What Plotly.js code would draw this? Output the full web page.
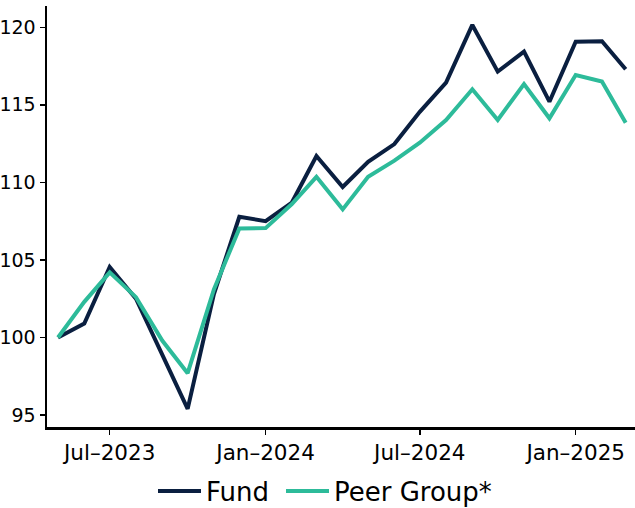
<!DOCTYPE html>
<html>
<head>
<meta charset="utf-8">
<script src="https://cdn.plot.ly/plotly-3.0.1.min.js"></script>
<style>
html, body { margin: 0; padding: 0; background: #ffffff; }
#chart { width: 635px; height: 508px; }
</style>
</head>
<body>
<div id="chart"></div>
<script>
const dates = ["2023-05-01","2023-06-01","2023-07-01","2023-08-01","2023-09-01","2023-10-01","2023-11-01","2023-12-01",
  "2024-01-01","2024-02-01","2024-03-01","2024-04-01","2024-05-01","2024-06-01","2024-07-01","2024-08-01",
  "2024-09-01","2024-10-01","2024-11-01","2024-12-01","2025-01-01","2025-02-01","2025-03-01"];
const fund = [100.0, 100.9, 104.55, 102.5, 98.9, 95.4, 102.8, 107.78, 107.5, 108.7, 111.7, 109.7, 111.33,
  112.47, 114.55, 116.43, 120.15, 117.14, 118.43, 115.2, 119.07, 119.1, 117.29];
const peer = [100.0, 102.3, 104.2, 102.6, 99.8, 97.7, 103.1, 107.03, 107.05, 108.6, 110.36, 108.26, 110.36,
  111.4, 112.56, 114.02, 116.0, 114.02, 116.34, 114.13, 116.92, 116.5, 113.85];
const tickVals = ["2023-07-01","2024-01-01","2024-07-01","2025-01-01"];
const tickText = ["Jul\u20132023","Jan\u20132024","Jul\u20132024","Jan\u20132025"];
const yTicks = [95, 100, 105, 110, 115, 120];

const traces = [
  { x: dates, y: fund, name: "Fund", type: "scatter", mode: "lines", legendwidth: 70,
    line: { color: "#0a1f40", width: 4 } },
  { x: dates, y: peer, name: "Peer Group*", type: "scatter", mode: "lines",
    line: { color: "#2dbb9a", width: 4 } }
];

const layout = {
  width: 635, height: 508,
  margin: { l: 47, r: 0, t: 6, b: 81 },
  paper_bgcolor: "#ffffff", plot_bgcolor: "#ffffff",
  font: { family: "DejaVu Sans", color: "#000000" },
  showlegend: true,
  legend: { orientation: "h", xref: "container", x: 153 / 635, xanchor: "left",
    yref: "container", y: 17 / 508, yanchor: "middle", itemwidth: 43,
    font: { family: "DejaVu Sans", size: 26, color: "#000000" } },
  xaxis: {
    type: "date", range: ["2023-04-18", "2025-03-12"],
    tickmode: "array", tickvals: tickVals, ticktext: tickText,
    showgrid: false, zeroline: false,
    showline: true, linecolor: "#000000", linewidth: 2.5,
    ticks: "outside", ticklen: 5, tickwidth: 1.5, tickcolor: "#000000",
    tickfont: { family: "DejaVu Sans", size: 21.5, color: "#000000" }
  },
  yaxis: {
    range: [94.23, 121.37],
    tickmode: "array", tickvals: yTicks,
    showgrid: false, zeroline: false,
    showline: true, linecolor: "#000000", linewidth: 2.5,
    ticks: "outside", ticklen: 5, tickwidth: 1.5, tickcolor: "#000000",
    tickfont: { family: "DejaVu Sans", size: 19, color: "#000000" }
  }
};

Plotly.newPlot("chart", traces, layout, { displayModeBar: false, staticPlot: true });
</script>
</body>
</html>
